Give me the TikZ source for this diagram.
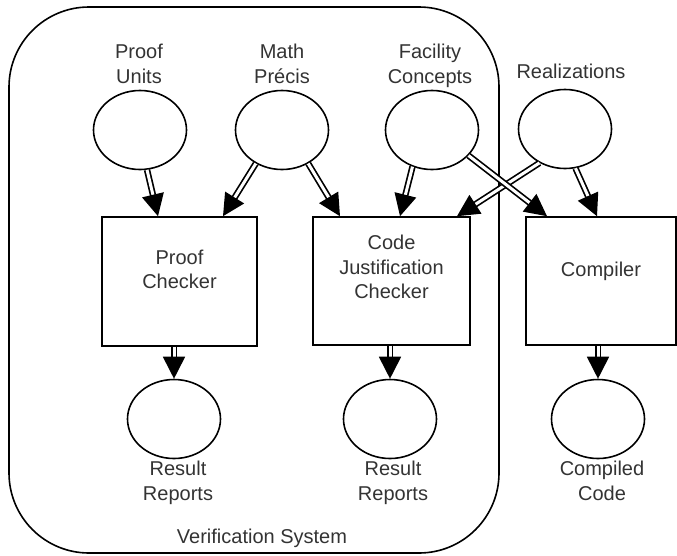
\documentclass[tikz,border=0pt]{standalone}
\usepackage{fontspec}
\setmainfont{Liberation Sans}
\usetikzlibrary{arrows.meta,shapes.geometric,calc}
\definecolor{ink}{RGB}{51,51,51}

\begin{document}
\begin{tikzpicture}[x=1pt,y=-1pt,
  every node/.style={font=\fontsize{20}{24.5}\selectfont, text=ink},
  store/.style={ellipse, draw=black, line width=1.6pt, minimum width=93pt,
                minimum height=79pt, inner sep=0pt},
  proc/.style={rectangle, draw=black, line width=1.6pt, inner sep=0pt},
  caption/.style={align=center, inner sep=0pt},
  flow/.style={draw=black, line width=1.7pt, double=white, double distance=3pt,
               -{Triangle[length=22pt,width=22pt]}},
]
\useasboundingbox (0,0) rectangle (677,555);

% enclosing boundary of the verification system
\draw[line width=1.6pt, rounded corners=80pt] (9,7) rectangle (499,553);
\node[caption, anchor=base] (vs) at (262,543) {Verification System};

% input stores (captions are placed by the baseline of their last line)
\node[store] (pu) at (140,130) {};
\node[store] (mp) at (282,130) {};
\node[store] (fc) at (432,130) {};
\node[store] (rz) at (565,129) {};
\node[caption, anchor=base] (pul) at (139,83) {Proof\\Units};
\node[caption, anchor=base] (mpl) at (282,83) {Math\\Précis};
\node[caption, anchor=base] (fcl) at (430,83) {Facility\\Concepts};
\node[caption, anchor=base] (rzl) at (571,78) {Realizations};

% processes
\node[proc, minimum width=155pt, minimum height=129pt] (pc) at (179.5,281.5) {};
\node[proc, minimum width=157pt, minimum height=128pt] (cj) at (391.5,281) {};
\node[proc, minimum width=150pt, minimum height=128pt] (cm) at (601,281) {};
\node[caption] (pct) at ([yshift=12pt]pc.center) {Proof\\Checker};
\node[caption] (cjt) at ([yshift=14pt]cj.center) {Code\\Justification\\Checker};
\node[caption] (cmt) at ([yshift=10pt]cm.center) {Compiler};

% output stores
\node[store] (rr1) at (174,419) {};
\node[store] (rr2) at (390,419) {};
\node[store] (cc) at (598,419) {};
\node[caption, anchor=base] (rr1l) at (178,500) {Result\\Reports};
\node[caption, anchor=base] (rr2l) at (393,500) {Result\\Reports};
\node[caption, anchor=base] (ccl) at (602,500) {Compiled\\Code};

% data flows into the processes
\draw[flow] (pu.-80) -- ([xshift=-21.5pt]pc.north);
\draw[flow] (mp.-128) -- ([xshift=43.5pt]pc.north);
\draw[flow] (mp.-52) -- ([xshift=-51.5pt]cj.north);
\draw[flow] (fc.-118) -- ([xshift=8.5pt]cj.north);
\draw[flow] (rz.-127) -- ([xshift=65.5pt]cj.north);
\draw[flow] (fc.-35) -- ([xshift=-54pt]cm.north);
\draw[flow] (rz.-75) -- ([xshift=-4pt]cm.north);

% data flows out of the processes
\draw[flow] (pc.south -| rr1.north) -- (rr1.north);
\draw[flow] (cj.south -| rr2.north) -- (rr2.north);
\draw[flow] (cm.south -| cc.north) -- (cc.north);
\end{tikzpicture}
\end{document}
